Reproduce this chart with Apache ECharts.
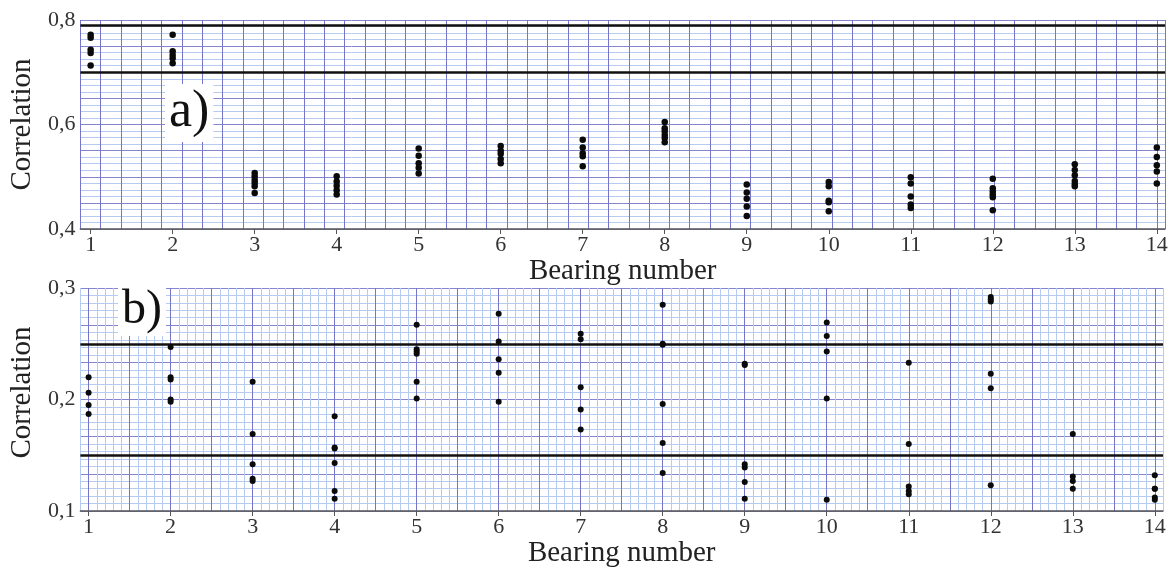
<!DOCTYPE html>
<html>
<head>
<meta charset="utf-8">
<script src="https://cdn.jsdelivr.net/npm/echarts@6/dist/echarts.min.js"></script>
<style>
html,body{margin:0;padding:0;background:#fff;}
#chart{width:1172px;height:572px;}
</style>
</head>
<body>
<div id="chart"></div>
<script>
// ---- data ----
const bearings = [1,2,3,4,5,6,7,8,9,10,11,12,13,14];
// panel a) correlation values per bearing
const corrA = [
  [0.772, 0.766, 0.743, 0.737, 0.713],
  [0.772, 0.740, 0.733, 0.727, 0.717],
  [0.507, 0.501, 0.494, 0.488, 0.482, 0.469],
  [0.501, 0.491, 0.483, 0.474, 0.466],
  [0.554, 0.540, 0.526, 0.517, 0.506],
  [0.559, 0.550, 0.544, 0.534, 0.526],
  [0.571, 0.556, 0.545, 0.539, 0.520],
  [0.605, 0.593, 0.587, 0.580, 0.574, 0.566],
  [0.485, 0.470, 0.458, 0.443, 0.425],
  [0.490, 0.482, 0.454, 0.451, 0.434],
  [0.499, 0.487, 0.462, 0.447, 0.440],
  [0.496, 0.478, 0.472, 0.466, 0.461, 0.436],
  [0.524, 0.513, 0.503, 0.492, 0.486, 0.482],
  [0.556, 0.538, 0.522, 0.510, 0.487]
];
// panel b) correlation values per bearing
const corrB = [
  [0.220, 0.206, 0.195, 0.187],
  [0.247, 0.220, 0.218, 0.200, 0.198],
  [0.216, 0.169, 0.142, 0.129, 0.127],
  [0.185, 0.157, 0.156, 0.143, 0.118, 0.111],
  [0.267, 0.245, 0.243, 0.241, 0.216, 0.201],
  [0.277, 0.252, 0.236, 0.224, 0.198],
  [0.259, 0.254, 0.211, 0.191, 0.173],
  [0.285, 0.250, 0.249, 0.196, 0.161, 0.134],
  [0.232, 0.231, 0.142, 0.139, 0.126, 0.111],
  [0.269, 0.257, 0.243, 0.201, 0.110],
  [0.233, 0.160, 0.122, 0.118, 0.115],
  [0.292, 0.290, 0.288, 0.223, 0.210, 0.123],
  [0.169, 0.131, 0.127, 0.120],
  [0.132, 0.120, 0.120, 0.112, 0.110]
];
// horizontal reference lines
const limitsA = [0.787, 0.700];
const limitsB = [0.2516, 0.1535];
// tick labels
const yLabelsA = [0.4, 0.6, 0.8];
const yLabelsB = [0.1, 0.2, 0.3];
const panelTags = ['a)', 'b)'];
const xName = 'Bearing number';
const yName = 'Correlation';

// ---- build ----
function toPoints(groups){
  const pts = [];
  groups.forEach((g, i) => g.forEach(v => pts.push([bearings[i], v])));
  return pts;
}
const serif = '"Liberation Serif", "DejaVu Serif", serif';
const fmtComma = v => (Math.round(v*10)/10).toFixed(1).replace('.', ',');

const purple = '#7676c8';
const purpleH = '#8686d0';
const lightBlue = '#b6cbf0';
const X_MAX = 14.1;

// axis carrying labels / ticks / names (no grid lines)
function xLabelAxis(gridIndex, min, nameGap){
  return {
    type: 'value', gridIndex, min, max: X_MAX, position: 'bottom',
    axisLine: {show: true, onZero: false, lineStyle: {color: '#555', width: 1.5}},
    axisTick: {show: true, customValues: bearings, length: 5, lineStyle: {color: '#555'}},
    axisLabel: {customValues: bearings, formatter: v => String(Math.round(v)),
      fontFamily: serif, fontSize: 22, color: '#333', margin: 5},
    splitLine: {show: false},
    name: xName, nameLocation: 'middle', nameGap,
    nameTextStyle: {fontFamily: serif, fontSize: 29, color: '#222'}
  };
}
// axis carrying only the grid lines
function xGridAxis(gridIndex, min, interval, colors){
  return {
    type: 'value', gridIndex, min, max: X_MAX, interval, position: 'top',
    axisLine: {show: false}, axisTick: {show: false}, axisLabel: {show: false},
    splitLine: {show: true, lineStyle: {color: colors, width: 1}}
  };
}
function yLabelAxis(gridIndex, min, max, labels, nameGap, namePad){
  return {
    type: 'value', gridIndex, min, max, position: 'left',
    axisLine: {show: false}, axisTick: {show: false},
    axisLabel: {customValues: labels, formatter: fmtComma, showMinLabel: true, showMaxLabel: true,
      fontFamily: serif, fontSize: 22, color: '#333', margin: 5},
    splitLine: {show: false},
    name: yName, nameLocation: 'middle', nameGap,
    nameTextStyle: {fontFamily: serif, fontSize: 29, color: '#222', padding: namePad}
  };
}
function yGridAxis(gridIndex, min, max, interval, minorN){
  return {
    type: 'value', gridIndex, min, max, interval, position: 'right',
    axisLine: {show: false}, axisTick: {show: false}, axisLabel: {show: false},
    splitLine: {show: true, lineStyle: {color: purpleH, width: 1}},
    minorTick: {show: false, splitNumber: minorN},
    minorSplitLine: {show: true, lineStyle: {color: lightBlue, width: 1}}
  };
}
function seriesCfg(xi, yi, groups, limits, size){
  return {
    type: 'scatter', xAxisIndex: xi, yAxisIndex: yi,
    data: toPoints(groups), symbol: 'circle', symbolSize: size,
    itemStyle: {color: '#0a0a0a', opacity: 1}, z: 5, silent: true,
    markLine: {
      silent: true, symbol: ['none','none'], label: {show: false},
      lineStyle: {color: '#111', width: 2.5, type: 'solid', opacity: 1},
      data: limits.map(v => ({yAxis: v}))
    }
  };
}

const chart = echarts.init(document.getElementById('chart'), null, {renderer: 'canvas'});
chart.setOption({
  animation: false,
  backgroundColor: '#ffffff',
  grid: [
    {left: 77, top: 20, width: 1088, height: 209, containLabel: false},
    {left: 78, top: 288, width: 1085, height: 223, containLabel: false}
  ],
  xAxis: [
    xLabelAxis(0, 0.875, 24),
    xGridAxis(0, 0.75, 0.25, purple),
    xLabelAxis(1, 0.9, 26),
    xGridAxis(1, 0.9, 0.1, [lightBlue, purple, lightBlue, lightBlue, lightBlue])
  ],
  yAxis: [
    yLabelAxis(0, 0.4, 0.8, yLabelsA, 36, [0, 0, 0, 0]),
    yGridAxis(0, 0.4, 0.8, 0.05, 4),
    yLabelAxis(1, 0.1, 0.3, yLabelsB, 37, [0, 0, 0, 14]),
    yGridAxis(1, 0.1, 0.3, 0.1/3, 5)
  ],
  series: [
    seriesCfg(0, 0, corrA, limitsA, 6.5),
    seriesCfg(2, 2, corrB, limitsB, 6)
  ],
  graphic: [
    {type: 'text', left: 165, top: 84, z: 10,
      style: {text: panelTags[0], font: '52px ' + serif, fill: '#111',
        backgroundColor: '#fff', padding: [2, 4, 4, 4]}},
    {type: 'text', left: 118, top: 284, z: 10,
      style: {text: panelTags[1], font: '48px ' + serif, fill: '#111',
        backgroundColor: '#fff', padding: [2, 4, 2, 4]}}
  ]
});
</script>
</body>
</html>
